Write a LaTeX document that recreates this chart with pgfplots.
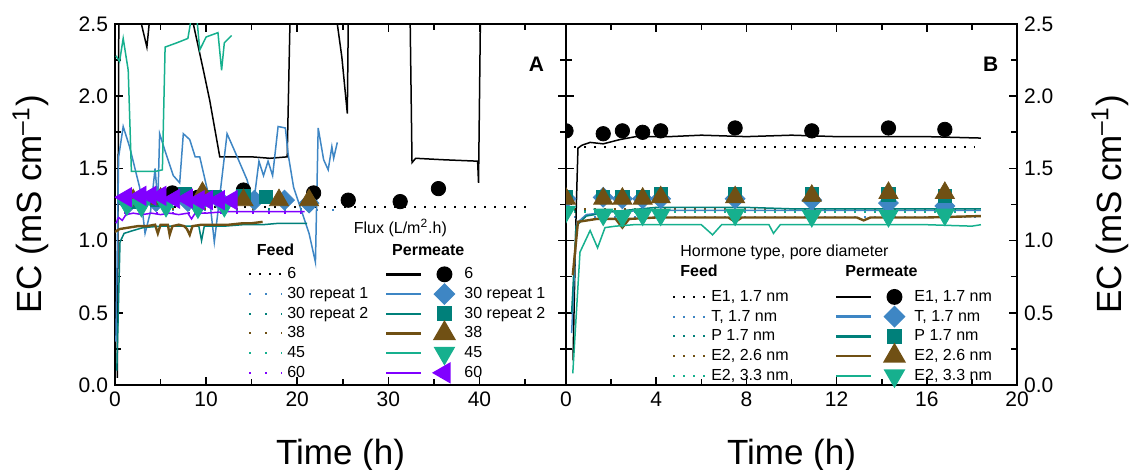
\documentclass[border=0pt]{standalone}
\usepackage{pgfplots}
\pgfplotsset{compat=1.18}
\usepackage{fontspec}
\setmainfont{Liberation Sans}
\definecolor{cblue}{RGB}{62,134,196}
\definecolor{cteal}{RGB}{0,128,122}
\definecolor{cbrown}{RGB}{112,80,20}
\definecolor{cgreen}{RGB}{22,176,142}
\definecolor{cpurple}{RGB}{128,0,255}
\pgfplotsset{
  feedK/.style={dash pattern=on 1pt off 4pt, line width=1pt},
  feedC/.style={dash pattern=on 1pt off 7pt, line width=1pt},
  pl/.style={line width=0.75pt, mark=none},
  mcirc/.style={mark=*, mark size=3.6pt},
  mdiam/.style={mark=square*, mark size=3.5pt, mark options={rotate=45}},
  msq/.style={mark=square*, mark size=3.3pt},
  mup/.style={mark=triangle*, mark size=5.5pt},
  mdown/.style={mark=triangle*, mark size=5.5pt, mark options={rotate=180}},
  mleft/.style={mark=triangle*, mark size=5.5pt, mark options={rotate=90}},
  feedleg/.style={legend image code/.code={
      \path[draw=none,fill=none] (0pt,-1pt) rectangle (18pt,1pt);
      \draw[##1] (0pt,0pt) -- (16.5pt,0pt);}},
  permleg/.style={legend image code/.code={
      \path[draw=none,fill=none] (0pt,-1pt) rectangle (38pt,1pt);
      \draw[##1,mark=none,line width=1.2pt] (0pt,0pt) -- (17.5pt,0pt);
      \draw[##1,overlay] plot coordinates {(29pt,0pt)};}},
  common/.style={
    scale only axis, width=225.5pt, height=180.5pt,
    ymin=0, ymax=2.5, ytick={0,0.5,1,1.5,2,2.5},
    minor ytick={0.25,0.75,1.25,1.75,2.25},
    axis line style={line width=1pt},
    major tick length=4pt, minor tick length=3pt,
    every tick/.style={black, line width=0.8pt},
    tick label style={font=\fontsize{10.5}{12}\selectfont},
    /pgf/number format/assume math mode=true,
    yticklabel style={/pgf/number format/.cd, fixed, fixed zerofill, precision=1},
    label style={font=\fontsize{17.5}{21}\selectfont},
    xlabel={Time (h)},
    ylabel={EC (mS cm\textsuperscript{--1})},
    xlabel style={at={(rel axis cs:0.5,0)}, anchor=base, yshift=-40pt},
    clip marker paths=true,
    legend columns=2, legend cell align=left,
  },
}
\begin{document}
\begin{tikzpicture}
\useasboundingbox (-57.5pt,-42.5pt) rectangle (507pt,192.5pt);
% ---------------- Panel A ----------------
\begin{axis}[common, at={(0pt,0pt)}, anchor=south west,
  xmin=0, xmax=49.5, xtick={0,10,20,30,40}, minor xtick={5,15,25,35,45},
  ylabel style={at={(rel axis cs:0,0.5)}, anchor=base, yshift=36.5pt},
  legend style={at={(rel axis cs:0.2947,0.334)}, anchor=north west, draw=none, fill=none,
    font=\fontsize{8}{9}\selectfont, inner sep=0pt, row sep=0.35pt, column sep=0pt,
    nodes={inner sep=1pt, text height=6pt, text depth=1.5pt},
    /tikz/every even column/.append style={column sep=7.5pt}},
]
% feed (dotted)
\addplot[forget plot, feedK, black] coordinates {(1,1.23)(45.3,1.23)};
\addplot[forget plot, feedC, cblue] coordinates {(1,1.21)(24.4,1.21)};
\addplot[forget plot, feedC, cteal] coordinates {(1,1.22)(21,1.22)};
\addplot[forget plot, feedC, cbrown] coordinates {(1,1.22)(16,1.22)};
\addplot[forget plot, feedC, cgreen] coordinates {(1,1.23)(13,1.23)};
\addplot[forget plot, feedC, cpurple] coordinates {(1,1.19)(21,1.19)};
% permeate lines
\addplot[forget plot, pl, black] coordinates {
(0.25,0.05)(0.45,2.95)(2.85,2.95)(2.9,2.5)(3.5,2.34)(3.75,2.5)(3.8,2.95)(8.5,2.95)(8.6,2.5)(9.7,2.18)(10.4,1.97)(11.5,1.58)(12.5,1.58)(15,1.58)(17,1.57)(18.9,1.58)(19.2,2.5)(19.25,2.95)(24.3,2.95)(24.4,2.5)(24.9,2.27)(25.5,1.88)(25.6,2.5)(25.65,2.95)(32.35,2.95)(32.4,2.5)(32.6,1.54)(33.0,1.57)(36,1.56)(39.8,1.55)(39.9,1.40)(40.1,2.5)(40.15,2.95)};
\addplot[forget plot, pl, cblue] coordinates {
(0.1,0.3)(0.4,1.58)(0.9,1.79)(1.6,1.65)(2.7,1.37)(3.3,1.05)(3.9,1.2)(4.4,1.5)(4.7,1.26)(4.9,1.74)(5.5,1.62)(6.4,1.45)(7.1,1.40)(7.5,1.74)(8.2,1.70)(8.8,1.58)(9.3,1.58)(10.4,1.28)(10.9,0.99)(11.3,1.2)(12.3,1.74)(13.0,1.64)(14.5,1.42)(15.2,1.25)(15.8,1.55)(16.3,1.45)(16.8,1.55)(17.3,1.45)(17.9,1.79)(18.7,1.78)(19.0,1.6)(19.6,1.37)(20.5,1.2)(21.3,1.05)(22.0,0.85)(22.3,1.78)(22.9,1.56)(23.4,1.49)(23.8,1.65)(24.0,1.57)(24.4,1.68)};
\addplot[forget plot, pl, cteal] coordinates {
(0.2,0.1)(0.55,0.99)(1.0,1.05)(2,1.07)(3.1,1.09)(5,1.10)(7,1.10)(9.2,1.10)(9.5,1.00)(9.8,1.10)(12,1.10)(14,1.11)(16.2,1.11)(18,1.12)(20.6,1.12)(21.1,1.12)};
\addplot[forget plot, line width=1.2pt, cbrown] coordinates {
(0,1.06)(0.5,1.08)(1.5,1.09)(2.5,1.10)(3.5,1.10)(4.4,1.11)(4.7,1.05)(5.0,1.11)(5.8,1.11)(6.0,1.04)(6.3,1.10)(7.0,1.11)(7.6,1.10)(7.9,1.08)(8.2,1.04)(8.5,1.10)(9.5,1.11)(11,1.11)(12.5,1.11)(14,1.12)(15,1.12)(16.2,1.13)};
\addplot[forget plot, pl, cgreen] coordinates {
(0.1,2.28)(0.5,2.24)(0.9,2.40)(1.45,2.18)(1.8,1.48)(3,1.48)(4.5,1.48)(5.2,1.49)(5.5,2.34)(6.8,2.37)(8.0,2.40)(8.4,2.55)(8.9,2.6)(9.3,2.32)(10.0,2.41)(11.3,2.44)(11.7,2.18)(12.0,2.37)(12.8,2.42)};
\addplot[forget plot, pl, cpurple] coordinates {
(0.1,1.12)(0.4,1.16)(0.8,1.14)(1.2,1.18)(2,1.19)(3,1.18)(4,1.19)(5,1.18)(6,1.19)(7,1.18)(8,1.19)(8.4,1.15)(8.8,1.19)(10,1.19)(12,1.20)(14,1.20)(16,1.20)(18,1.20)(20.8,1.20)};
% permeate markers
\addplot[forget plot, only marks, mcirc, black] coordinates {(6.3,1.33)(9.1,1.30)(14.1,1.35)(21.8,1.33)(25.6,1.28)(31.3,1.27)(35.5,1.36)};
\addplot[forget plot, only marks, mdiam, cblue] coordinates {(1.5,1.26)(4.5,1.27)(8.0,1.27)(11.5,1.28)(15.3,1.28)(18.6,1.28)(21.3,1.26)};
\addplot[forget plot, only marks, msq, cteal] coordinates {(2.0,1.27)(4.6,1.28)(7.7,1.32)(10.9,1.30)(14.1,1.31)(16.6,1.30)};
\addplot[forget plot, only marks, mup, cbrown] coordinates {(2.0,1.28)(5.0,1.29)(9.6,1.33)(14.1,1.28)(18.0,1.28)(21.3,1.28)};
\addplot[forget plot, only marks, mdown, cgreen] coordinates {(1.3,1.25)(2.9,1.24)(5.6,1.24)(9.1,1.23)(12.0,1.24)};
\addplot[forget plot, only marks, mleft, cpurple] coordinates {(1.2,1.30)(2.8,1.31)(3.9,1.31)(5.0,1.31)(6.5,1.29)(7.9,1.29)(9.2,1.28)(10.1,1.28)(11.4,1.28)(12.8,1.28)};
% legend
\addlegendimage{feedleg, feedK, black}\addlegendentry{6}
\addlegendimage{permleg, pl, mcirc, black}\addlegendentry{6}
\addlegendimage{feedleg, feedC, cblue}\addlegendentry{30 repeat 1}
\addlegendimage{permleg, pl, mdiam, cblue}\addlegendentry{30 repeat 1}
\addlegendimage{feedleg, feedC, cteal}\addlegendentry{30 repeat 2}
\addlegendimage{permleg, pl, msq, cteal}\addlegendentry{30 repeat 2}
\addlegendimage{feedleg, feedC, cbrown}\addlegendentry{38}
\addlegendimage{permleg, line width=1.2pt, mup, cbrown}\addlegendentry{38}
\addlegendimage{feedleg, feedC, cgreen}\addlegendentry{45}
\addlegendimage{permleg, pl, mdown, cgreen}\addlegendentry{45}
\addlegendimage{feedleg, feedC, cpurple}\addlegendentry{60}
\addlegendimage{permleg, pl, mleft, cpurple}\addlegendentry{60}
\node[anchor=base west, font=\fontsize{8}{9}\selectfont] at (rel axis cs:0.514,0.421) {Flux (L/m\textsuperscript{2}.h)};
\node[anchor=base west, font=\fontsize{8}{9}\selectfont\bfseries] at (rel axis cs:0.299,0.360) {Feed};
\node[anchor=base west, font=\fontsize{8}{9}\selectfont\bfseries] at (rel axis cs:0.599,0.360) {Permeate};
\node[anchor=base west, font=\fontsize{10.5}{12}\selectfont\bfseries] at (rel axis cs:0.902,0.868) {A};
\end{axis}
% ---------------- Panel B ----------------
\begin{axis}[common, at={(225.5pt,0pt)}, anchor=south west,
  xmin=0, xmax=20, xtick={0,4,8,12,16,20}, minor xtick={2,6,10,14,18},
  yticklabel pos=right,
  ylabel style={at={(rel axis cs:1,0.5)}, anchor=base, yshift=-52pt},
  legend style={at={(rel axis cs:0.2348,0.2714)}, anchor=north west, draw=none, fill=none,
    font=\fontsize{8}{9}\selectfont, inner sep=0pt, row sep=0.35pt, column sep=0pt,
    nodes={inner sep=1pt, text height=6pt, text depth=1.5pt},
    /tikz/every even column/.append style={column sep=22.3pt}},
]
\addplot[forget plot, feedK, black] coordinates {(0.35,1.65)(18.1,1.65)};
\addplot[forget plot, feedK, cblue] coordinates {(0.35,1.16)(18.3,1.16)};
\addplot[forget plot, feedK, cteal] coordinates {(0.35,1.21)(18.3,1.21)};
\addplot[forget plot, feedK, cbrown] coordinates {(0.35,1.22)(18.3,1.22)};
\addplot[forget plot, feedK, cgreen] coordinates {(0.35,1.20)(18.3,1.20)};
\addplot[forget plot, pl, black] coordinates {
(0.31,0.17)(0.45,1.2)(0.53,1.64)(0.7,1.66)(1.07,1.68)(1.65,1.67)(2.4,1.70)(3.1,1.72)(4.6,1.72)(6,1.73)(8,1.72)(10,1.73)(12,1.72)(14,1.72)(16,1.72)(18.4,1.71)};
\addplot[forget plot, pl, cblue] coordinates {
(0.25,0.36)(0.47,1.12)(0.9,1.18)(2,1.20)(4,1.21)(6,1.21)(8,1.21)(10,1.21)(12,1.21)(14,1.21)(16,1.21)(18.4,1.21)};
\addplot[forget plot, pl, cteal] coordinates {
(0.25,0.5)(0.45,1.10)(0.9,1.17)(2,1.20)(4,1.23)(6,1.23)(8,1.23)(10,1.22)(12,1.22)(14,1.22)(16,1.22)(18.4,1.22)};
\addplot[forget plot, line width=1.2pt, cbrown] coordinates {
(0.3,0.76)(0.53,1.13)(1.36,1.15)(2.2,1.15)(2.5,1.09)(2.8,1.15)(4,1.16)(6,1.16)(7.2,1.16)(7.5,1.13)(7.8,1.16)(10,1.16)(12.9,1.16)(13.2,1.14)(13.5,1.16)(16,1.16)(18.4,1.17)};
\addplot[forget plot, pl, cgreen] coordinates {
(0.3,0.08)(0.62,0.92)(1.07,1.07)(1.4,0.95)(1.73,1.09)(2.2,1.10)(3,1.11)(4,1.11)(6,1.11)(6.5,1.04)(6.9,1.11)(9.0,1.11)(9.2,1.05)(9.5,1.11)(12,1.11)(14,1.11)(16,1.11)(18,1.10)(18.4,1.11)};
\addplot[forget plot, only marks, mcirc, black] coordinates {(0,1.76)(1.65,1.74)(2.5,1.76)(3.4,1.75)(4.2,1.76)(7.5,1.78)(10.9,1.76)(14.3,1.78)(16.8,1.77)};
\addplot[forget plot, only marks, mdiam, cblue] coordinates {(0,1.29)(1.65,1.30)(2.5,1.29)(3.4,1.29)(4.2,1.29)(7.5,1.29)(10.9,1.28)(14.3,1.26)(16.8,1.24)};
\addplot[forget plot, only marks, msq, cteal] coordinates {(0,1.30)(1.65,1.30)(2.5,1.30)(3.4,1.30)(4.2,1.32)(7.5,1.32)(10.9,1.32)(14.3,1.32)(16.8,1.31)};
\addplot[forget plot, only marks, mup, cbrown] coordinates {(0,1.29)(1.65,1.29)(2.5,1.29)(3.4,1.29)(4.2,1.30)(7.5,1.30)(10.9,1.31)(14.3,1.33)(16.8,1.33)};
\addplot[forget plot, only marks, mdown, cgreen] coordinates {(0,1.20)(1.65,1.18)(2.5,1.17)(3.4,1.18)(4.2,1.18)(7.5,1.18)(10.9,1.17)(14.3,1.17)(16.8,1.18)};
\addlegendimage{feedleg, feedK, black}\addlegendentry{E1, 1.7 nm}
\addlegendimage{permleg, pl, mcirc, black}\addlegendentry{E1, 1.7 nm}
\addlegendimage{feedleg, feedK, cblue}\addlegendentry{T, 1.7 nm}
\addlegendimage{permleg, pl, mdiam, cblue}\addlegendentry{T, 1.7 nm}
\addlegendimage{feedleg, feedK, cteal}\addlegendentry{P 1.7 nm}
\addlegendimage{permleg, pl, msq, cteal}\addlegendentry{P 1.7 nm}
\addlegendimage{feedleg, feedK, cbrown}\addlegendentry{E2, 2.6 nm}
\addlegendimage{permleg, line width=1.2pt, mup, cbrown}\addlegendentry{E2, 2.6 nm}
\addlegendimage{feedleg, feedK, cgreen}\addlegendentry{E2, 3.3 nm}
\addlegendimage{permleg, pl, mdown, cgreen}\addlegendentry{E2, 3.3 nm}
\node[anchor=base west, font=\fontsize{8}{9}\selectfont] at (rel axis cs:0.238,0.355) {Hormone type, pore diameter};
\node[anchor=base west, font=\fontsize{8}{9}\selectfont\bfseries] at (rel axis cs:0.238,0.300) {Feed};
\node[anchor=base west, font=\fontsize{8}{9}\selectfont\bfseries] at (rel axis cs:0.604,0.300) {Permeate};
\node[anchor=base west, font=\fontsize{10.5}{12}\selectfont\bfseries] at (rel axis cs:0.909,0.868) {B};
\end{axis}
\end{tikzpicture}
\end{document}
